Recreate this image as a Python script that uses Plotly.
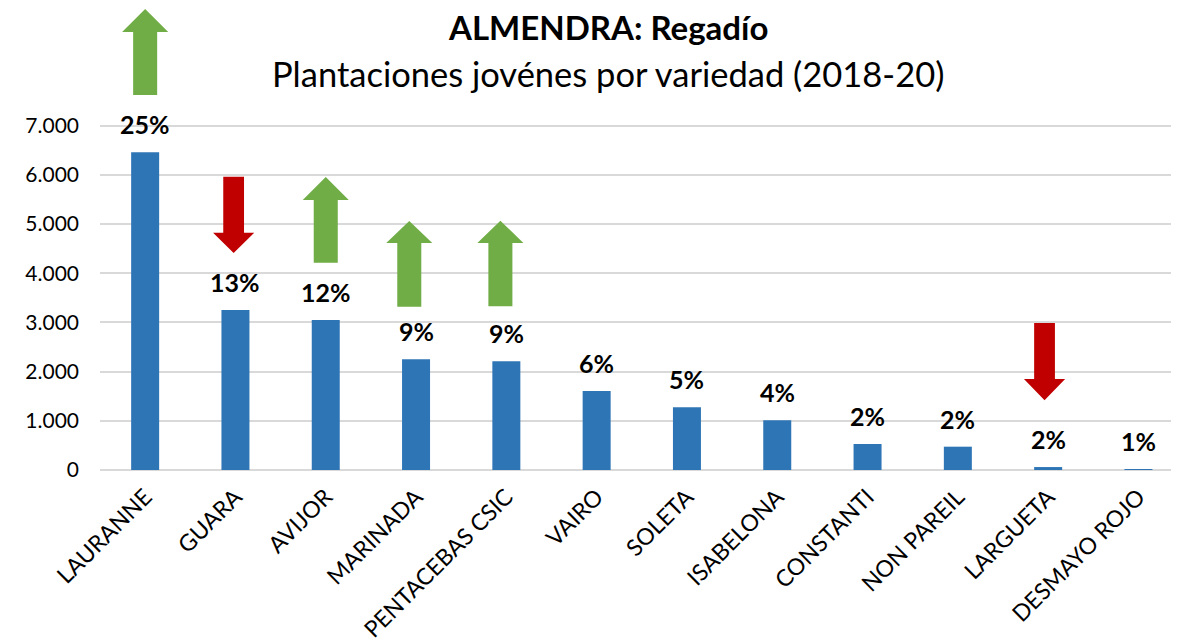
import plotly.graph_objects as go

# ---- data ----
varieties = ["LAURANNE", "GUARA", "AVIJOR", "MARINADA", "PENTACEBAS CSIC", "VAIRO",
             "SOLETA", "ISABELONA", "CONSTANTI", "NON PAREIL", "LARGUETA", "DESMAYO ROJO"]
hectares = [6460, 3250, 3050, 2250, 2210, 1606, 1275, 1010, 528, 474, 60, 15]
shares = ["25%", "13%", "12%", "9%", "9%", "6%", "5%", "4%", "2%", "2%", "2%", "1%"]
y_ticks = [0, 1000, 2000, 3000, 4000, 5000, 6000, 7000]

# trend arrows: (category index, direction, start value, head-base value, tip value, x offset)
arrows = [
    (0, "up", 7620, 8900, 9370, 0.0),
    (1, "down", 5960, 4820, 4410, -0.02),
    (2, "up", 4210, 5490, 5955, 0.0),
    (3, "up", 3320, 4615, 5060, -0.075),
    (4, "up", 3330, 4615, 5065, -0.066),
    (10, "down", 2990, 1850, 1420, -0.04),
]

BLUE = "#2E75B6"
GREEN = "#70AD47"
RED = "#C00000"
FONT = "Lato"

# page body has an 8px margin, so the figure is laid out 8px smaller
W, H = 1171, 631
ML, MB = 92, 169
PLOT_H = H - MB          # 462
PLOT_W = W - ML          # 1079

x_idx = list(range(len(varieties)))

fig = go.Figure()
fig.add_trace(go.Bar(x=x_idx, y=hectares, width=0.31, marker=dict(color=BLUE, line=dict(width=0)),
                     hoverinfo="skip"))

for xi, v, t in zip(x_idx, hectares, shares):
    fig.add_annotation(x=xi, y=v, text="<b>%s</b>" % t, showarrow=False, yshift=28,
                       yanchor="middle", font=dict(family=FONT, size=25, color="black"))

for ci, d, y0, yb, yt, off in arrows:
    c = ci + off
    if d == "up":
        ws, wh, col = 0.133, 0.255, GREEN
    else:
        ws, wh, col = 0.115, 0.228, RED
    path = (f"M {c-ws},{y0} L {c-ws},{yb} L {c-wh},{yb} L {c},{yt} "
            f"L {c+wh},{yb} L {c+ws},{yb} L {c+ws},{y0} Z")
    fig.add_shape(type="path", path=path, xref="x", yref="y", fillcolor=col,
                  line=dict(width=0), layer="above")

fig.add_annotation(x=(600 - ML) / PLOT_W, y=1 - 19 / PLOT_H, xref="paper", yref="paper",
                   text="<b>ALMENDRA: Regadío</b>", showarrow=False, yanchor="middle",
                   font=dict(family=FONT, size=33, color="black"))
fig.add_annotation(x=(600 - ML) / PLOT_W, y=1 - 65 / PLOT_H, xref="paper", yref="paper",
                   text="Plantaciones jovénes por variedad (2018-20)", showarrow=False,
                   yanchor="middle", font=dict(family=FONT, size=34.5, color="black"))

fig.update_layout(
    width=W, height=H,
    margin=dict(l=ML, r=0, t=0, b=MB, autoexpand=False),
    plot_bgcolor="white", paper_bgcolor="white",
    showlegend=False,
    separators=",.",
    font=dict(family=FONT, color="black"),
)
fig.update_xaxes(range=[-0.5, -0.5 + PLOT_W / 90.3], tickvals=x_idx, ticktext=varieties,
                 tickangle=-45, tickfont=dict(family=FONT, size=23, color="black"),
                 showgrid=False, zeroline=False, showline=False, ticks="",
                 automargin=False, ticklabelstandoff=8)
fig.update_yaxes(range=[0, PLOT_H / 49.2 * 1000], tickvals=y_ticks, tickformat=",.0f",
                 tickfont=dict(family=FONT, size=21, color="black"),
                 showgrid=True, gridcolor="#D9D9D9", gridwidth=1.5,
                 zeroline=True, zerolinecolor="#D9D9D9", zerolinewidth=1.5,
                 showline=False, ticks="", ticklabelstandoff=20, automargin=False)

fig.write_html("out.html")
